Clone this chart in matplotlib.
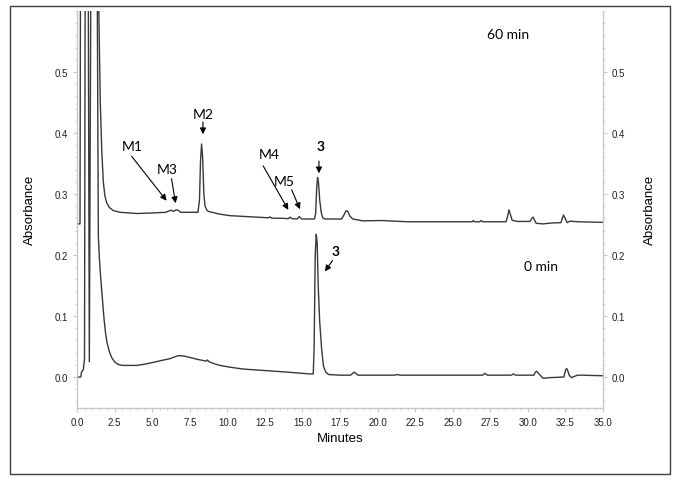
import matplotlib
matplotlib.use("Agg")
import matplotlib.pyplot as plt
from matplotlib.patches import Rectangle
from matplotlib.ticker import MultipleLocator, FormatStrFormatter

# 60 min trace (time in minutes, absorbance)
t60 = [0.0, 0.2, 0.25, 1.38, 1.45, 1.55, 1.65, 1.75, 1.85, 1.97, 2.15, 2.4,
       2.86, 4.0, 5.08, 5.9, 6.15, 6.28, 6.42, 6.6, 6.72, 6.9, 7.5, 8.05,
       8.15, 8.22, 8.29, 8.36, 8.44, 8.52, 8.65, 8.8, 9.5, 10.18, 12.0, 12.75,
       12.85, 12.95, 13.8, 14.05, 14.17, 14.32, 14.65, 14.79, 14.95, 15.8,
       15.88, 15.95, 16.01, 16.07, 16.15, 16.25, 16.35, 16.5, 17.6, 17.75,
       17.9, 18.0, 18.15, 18.35, 19.0, 20.3, 22.0, 26.3, 26.38, 26.45, 26.8,
       26.9, 27.0, 28.55, 28.66, 28.74, 28.82, 28.95, 29.3, 30.15, 30.27,
       30.35, 30.55, 31.0, 31.6, 32.2, 32.3, 32.38, 32.46, 32.62, 32.8, 33.3,
       35.0]
a60 = [0.251, 0.251, 0.9, 0.9, 0.6, 0.45, 0.37, 0.32, 0.298, 0.286, 0.278,
       0.273, 0.270, 0.268, 0.269, 0.270, 0.2725, 0.2735, 0.2715, 0.274,
       0.2735, 0.270, 0.270, 0.270, 0.29, 0.355, 0.382, 0.36, 0.30, 0.28,
       0.273, 0.271, 0.267, 0.2645, 0.262, 0.261, 0.2625, 0.2605, 0.260,
       0.2595, 0.262, 0.2595, 0.259, 0.263, 0.259, 0.259, 0.268, 0.31, 0.327,
       0.318, 0.29, 0.27, 0.261, 0.259, 0.259, 0.265, 0.2725, 0.272, 0.264,
       0.259, 0.256, 0.2565, 0.2545, 0.2545, 0.2565, 0.2545, 0.2545, 0.2565,
       0.2545, 0.2545, 0.264, 0.274, 0.268, 0.257, 0.255, 0.255, 0.2605,
       0.262, 0.252, 0.251, 0.2525, 0.253, 0.261, 0.2655, 0.261, 0.253,
       0.2555, 0.2545, 0.2535]

# 0 min trace
t0 = [0.0, 0.25, 0.3, 0.42, 0.5, 0.56, 0.72, 0.82, 0.96, 1.3, 1.42, 1.5, 1.6,
      1.7, 1.8, 1.9, 2.0, 2.15, 2.3, 2.5, 2.7, 3.0, 3.97, 4.5, 5.08, 5.6,
      6.19, 6.5, 6.74, 7.1, 7.52, 8.0, 8.6, 8.68, 8.78, 9.1, 9.51, 10.2,
      11.07, 12.84, 14.0, 15.5, 15.72, 15.78, 15.85, 15.92, 15.98, 16.05,
      16.15, 16.28, 16.4, 16.55, 16.75, 17.5, 18.2, 18.35, 18.45, 18.55,
      18.7, 21.1, 21.3, 21.5, 27.0, 27.08, 27.14, 27.2, 27.3, 28.9, 29.03,
      29.2, 30.4, 30.5, 30.58, 30.7, 30.9, 31.0, 31.5, 32.4, 32.5, 32.58,
      32.66, 32.75, 32.9, 33.3, 33.6, 35.0]
a0 = [0.0, 0.0, 0.008, 0.012, 0.03, 0.9, 0.9, 0.025, 0.9, 0.9, 0.23, 0.19,
      0.155, 0.125, 0.095, 0.072, 0.056, 0.042, 0.032, 0.025, 0.021, 0.019,
      0.019, 0.021, 0.024, 0.027, 0.030, 0.033, 0.035, 0.0345, 0.032, 0.029,
      0.026, 0.028, 0.025, 0.022, 0.019, 0.016, 0.013, 0.010, 0.008, 0.005,
      0.005, 0.05, 0.2, 0.234, 0.22, 0.15, 0.09, 0.045, 0.018, 0.008, 0.004,
      0.003, 0.003, 0.006, 0.008, 0.006, 0.003, 0.003, 0.004, 0.003, 0.003,
      0.005, 0.006, 0.005, 0.003, 0.003, 0.005, 0.003, 0.003, 0.008, 0.0095,
      0.006, 0.001, -0.002, -0.001, 0.0, 0.011, 0.014, 0.01, 0.003, -0.001,
      0.003, 0.003, 0.002]

note_font = ["Lato", "DejaVu Sans"]
plt.rcParams['font.family'] = ["Liberation Sans", "DejaVu Sans"]

fig = plt.figure(figsize=(6.76, 4.81), dpi=100)
fig.patches.append(Rectangle((10 / 676, 1 - 475 / 481), 660 / 676, 468 / 481,
                             transform=fig.transFigure, fill=False,
                             ec='#404040', lw=1.0))
ax = fig.add_axes([77 / 676, 1 - 408.5 / 481, 526 / 676, 396.5 / 481])

line_c = '#383838'
ax.plot(t60, a60, color=line_c, lw=1.0)
ax.plot(t0, a0, color=line_c, lw=1.0)

ax.set_xlim(0, 35)
ax.set_ylim(-0.05, 0.6)

ax.xaxis.set_major_locator(MultipleLocator(2.5))
ax.xaxis.set_minor_locator(MultipleLocator(0.5))
ax.xaxis.set_major_formatter(FormatStrFormatter('%.1f'))
ax.yaxis.set_minor_locator(MultipleLocator(0.02))
ax.yaxis.set_major_formatter(FormatStrFormatter('%.1f'))
ax.set_yticks([0.0, 0.1, 0.2, 0.3, 0.4, 0.5])

grey = '#c8c8c8'
for s in ['left', 'right', 'bottom']:
    ax.spines[s].set_color(grey)
    ax.spines[s].set_linewidth(1.0)
ax.spines['top'].set_visible(False)
ax.tick_params(which='both', color=grey, labelsize=7, labelcolor='#202020',
               left=True, right=True, labelleft=True, labelright=True)
ax.tick_params(which='major', length=3)
ax.tick_params(which='minor', length=1.5)

ax.set_xlabel('Minutes', fontsize=9.5, labelpad=4)
fig.text(30 / 676, 1 - 210 / 481, 'Absorbance', fontsize=9.5, rotation=90,
         ha='center', va='center')
fig.text(650 / 676, 1 - 210 / 481, 'Absorbance', fontsize=9.5, rotation=90,
         ha='center', va='center')

arrow = dict(arrowstyle='-|>', color='black', lw=0.8, mutation_scale=9,
             shrinkA=0, shrinkB=0)

ax.text(28.7, 0.562, '60 min', fontsize=10, family=note_font, ha='center', va='center')
ax.text(30.9, 0.182, '0 min', fontsize=10, family=note_font, ha='center', va='center')

ax.text(3.69, 0.379, 'M1', fontsize=10, family=note_font, ha='center', va='center')
ax.annotate('', xy=(5.96, 0.289), xytext=(3.63, 0.362), arrowprops=arrow)
ax.text(6.03, 0.341, 'M3', fontsize=10, family=note_font, ha='center', va='center')
ax.annotate('', xy=(6.56, 0.285), xytext=(6.29, 0.325), arrowprops=arrow)
ax.text(8.41, 0.431, 'M2', fontsize=10, family=note_font, ha='center', va='center')
ax.annotate('', xy=(8.38, 0.398), xytext=(8.38, 0.418), arrowprops=arrow)
ax.text(12.76, 0.366, 'M4', fontsize=10, family=note_font, ha='center', va='center')
ax.annotate('', xy=(14.06, 0.274), xytext=(12.39, 0.346), arrowprops=arrow)
ax.text(13.77, 0.321, 'M5', fontsize=10, family=note_font, ha='center', va='center')
ax.annotate('', xy=(14.84, 0.275), xytext=(14.28, 0.307), arrowprops=arrow)
ax.text(16.23, 0.379, '3', fontsize=10, fontweight='bold', family=note_font,
        ha='center', va='center')
ax.annotate('', xy=(16.1, 0.334), xytext=(16.1, 0.354), arrowprops=arrow)
ax.text(17.23, 0.206, '3', fontsize=10, fontweight='bold', family=note_font,
        ha='center', va='center')
ax.annotate('', xy=(16.5, 0.173), xytext=(17.0, 0.191), arrowprops=arrow)

fig.savefig('out.png', dpi=100)
